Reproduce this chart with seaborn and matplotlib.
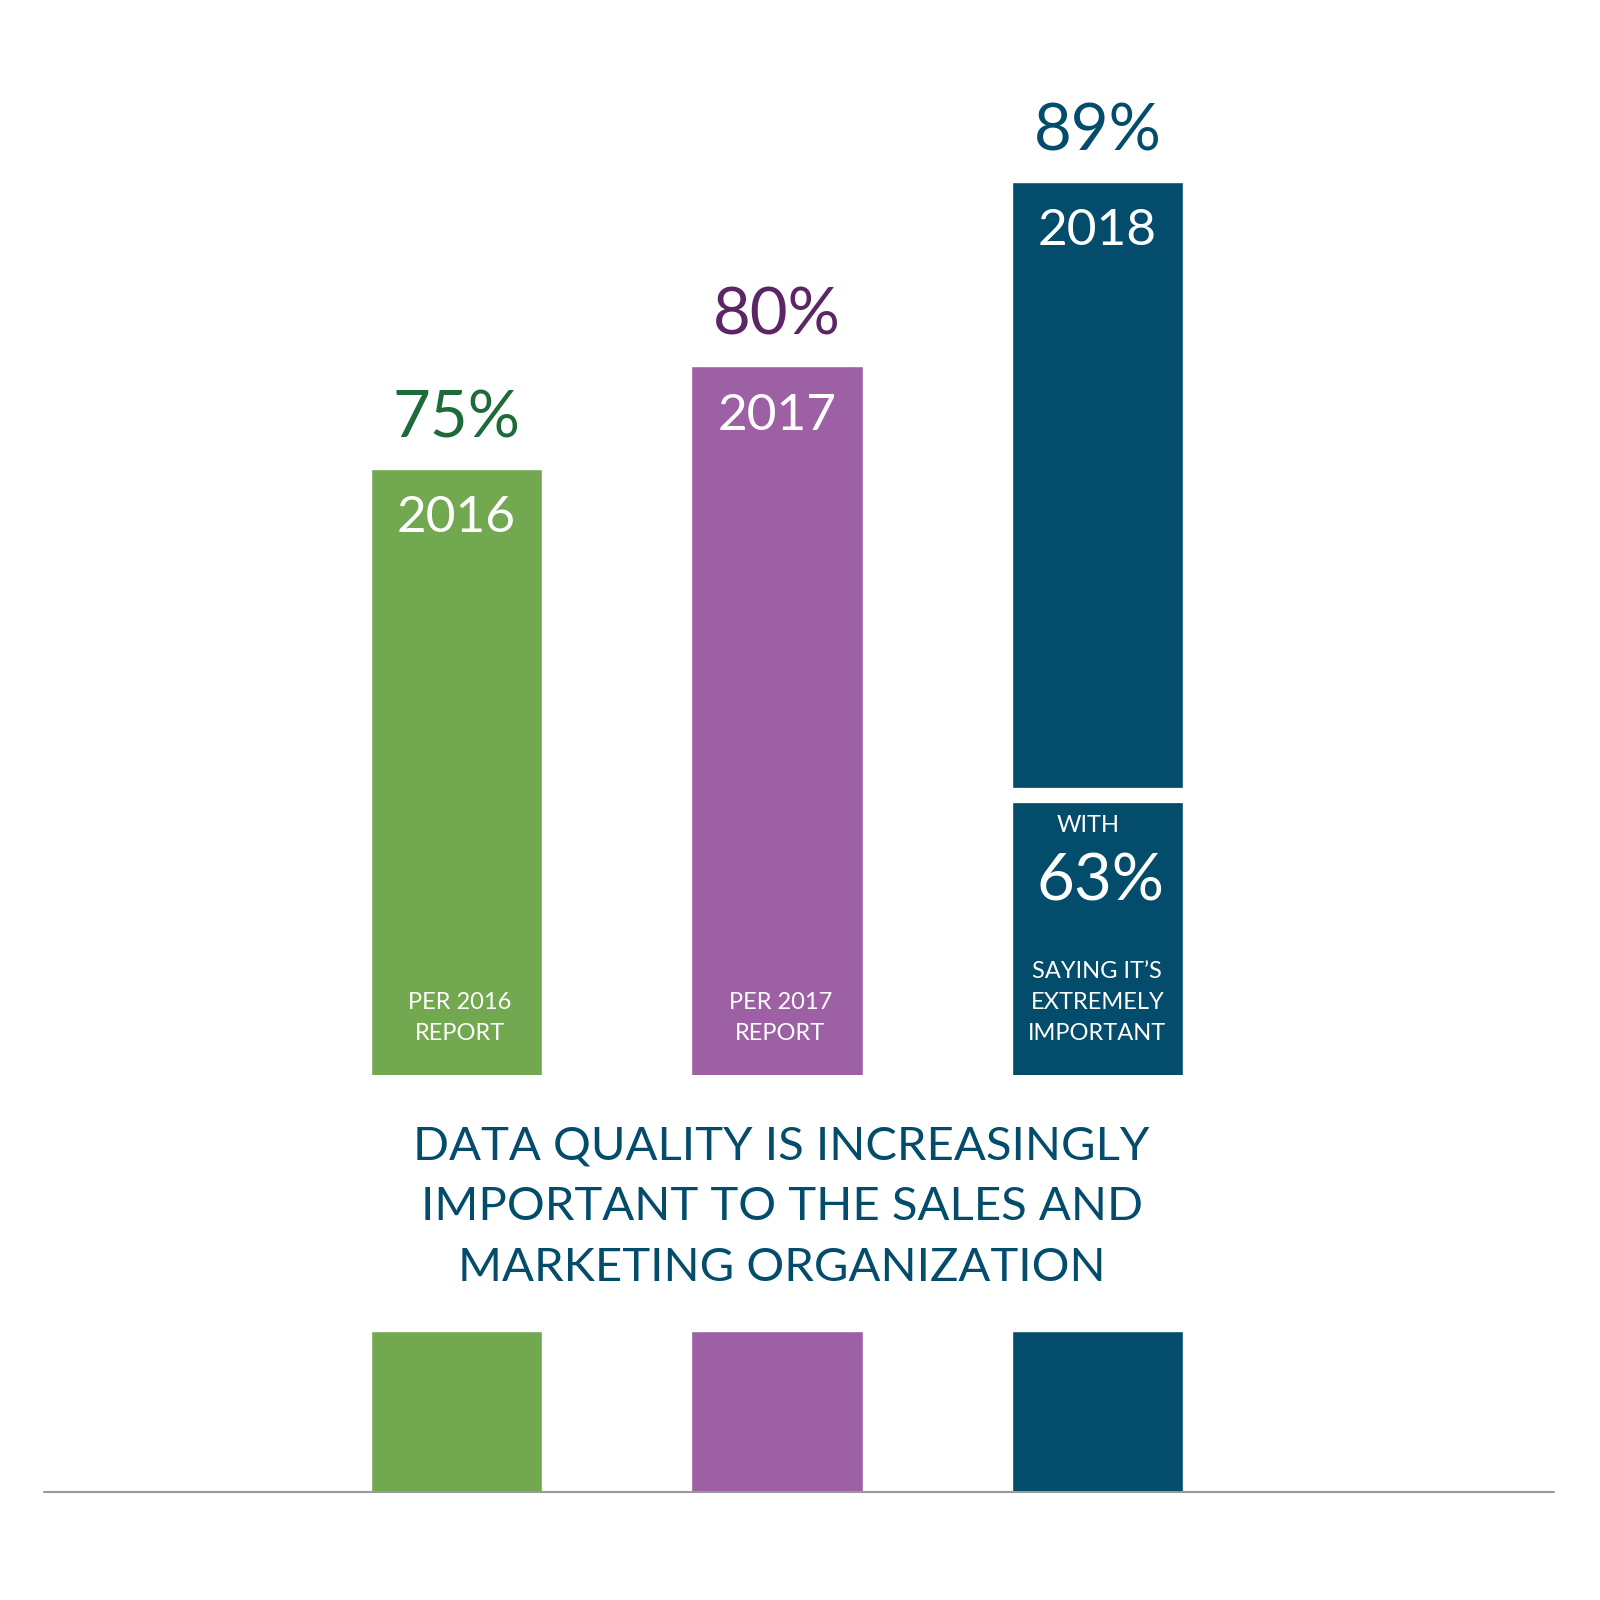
import matplotlib
matplotlib.use("Agg")
import matplotlib.pyplot as plt
import seaborn as sns
import pandas as pd

years = ["2016", "2017", "2018"]
values = [75, 80, 89]
colors = ["#72A84F", "#9D60A5", "#034C6C"]
pct_colors = ["#1E6B3A", "#5C2566", "#034C6C"]
bottom_notes = ["PER 2016\nREPORT", "PER 2017\nREPORT", None]
sub_value = 63
title = "DATA QUALITY IS INCREASINGLY\nIMPORTANT TO THE SALES AND\nMARKETING ORGANIZATION"

sns.set_theme(style="white")
plt.rcParams["font.family"] = ["Lato", "DejaVu Sans"]

W = 1560.0
fig = plt.figure(figsize=(16, 16), dpi=100)
df = pd.DataFrame({"year": years, "value": values})

def axes_px(y_top, y_bot):
    return fig.add_axes([0, 1 - y_bot / W, 1, (y_bot - y_top) / W])

xl = (-445 / 312.5, (W - 445) / 312.5)
bw = 167 / 312.5
base = 45.45
ppu = 20.0

# main bars
ax = axes_px(0, 1048)
sns.barplot(data=df, x="year", y="value", hue="year", palette=colors, legend=False,
            width=bw, ax=ax, saturation=1)
ax.set_xlim(*xl)
ax.set_ylim(base, base + 1048 / ppu)
ax.axis("off")
for i, (v, c) in enumerate(zip(values, pct_colors)):
    ax.text(i, v + 1.0, f"{v}%", ha="center", va="bottom", fontsize=47, color=c)
    ax.text(i, v - 1.3, years[i], ha="center", va="top", fontsize=37, color="white")
    if bottom_notes[i]:
        ax.text(i + 0.01, base + 1.5, bottom_notes[i], ha="center", va="bottom",
                fontsize=17, color="white", linespacing=1.6)
# break in 2018 bar
yb = base + (1048 - 775) / ppu
ax.plot([2 - bw / 2 - 0.01, 2 + bw / 2 + 0.01], [yb, yb], color="white", lw=11,
        solid_capstyle="butt")
ax.text(1.97, base + (1048 - 805) / ppu, "WITH", ha="center", va="center", fontsize=17, color="white")
ax.text(2.01, base + (1048 - 860) / ppu, f"{sub_value}%", ha="center", va="center",
        fontsize=47, color="white")
ax.text(2.0, base + 1.5, "SAYING IT\u2019S\nEXTREMELY\nIMPORTANT", ha="center", va="bottom",
        fontsize=17, color="white", linespacing=1.6)

# title
fig.text(762 / W, 1 - 1177 / W, title, ha="center", va="center", fontsize=34,
         color="#034C6C", linespacing=1.55)

# bottom bars
ax2 = axes_px(1298, 1455)
sns.barplot(data=df, x="year", y=[1, 1, 1], hue="year", palette=colors, legend=False,
            width=bw, ax=ax2, saturation=1)
ax2.set_xlim(*xl)
ax2.set_ylim(0, 1)
ax2.axis("off")
ax2.plot([(43 - 445) / 312.5, (1515 - 445) / 312.5], [0, 0], color="#999999", lw=1.5,
         clip_on=False)

fig.savefig("out.png", dpi=100, facecolor="white")
